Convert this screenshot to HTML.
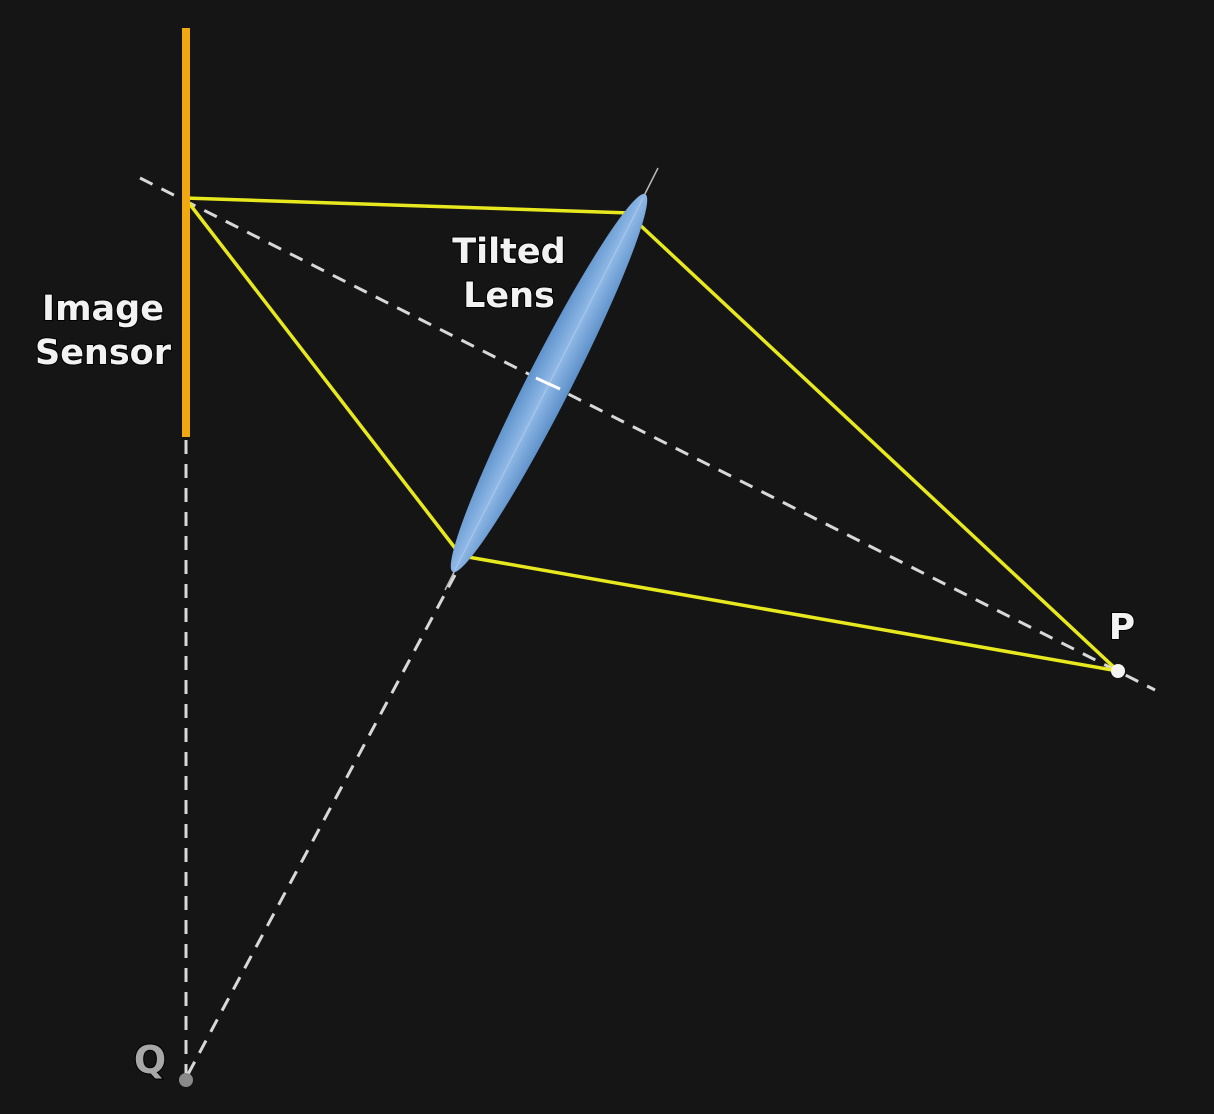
<!DOCTYPE html>
<html><head><meta charset="utf-8"><style>
html,body{margin:0;padding:0;background:#151515;}
svg{display:block}
text{font-family:"DejaVu Sans","Liberation Sans",sans-serif;fill:#f2f2f2;stroke:#000;stroke-width:2px;paint-order:stroke;font-weight:bold;}
</style></head><body>
<svg width="1214" height="1114" viewBox="0 0 1214 1114">
<defs>
<linearGradient id="lg" x1="0" y1="0" x2="0" y2="1">
<stop offset="0" stop-color="#5f93cc"/><stop offset="0.5" stop-color="#8fb8e6"/><stop offset="1" stop-color="#5c8fc8"/>
</linearGradient>
</defs>
<rect width="1214" height="1114" fill="#151515"/>
<g stroke="#d8d8d8" stroke-width="3" stroke-dasharray="14,10" fill="none">
<line x1="140" y1="178" x2="1155" y2="690"/>
<line x1="186" y1="440" x2="186" y2="1078"/>
<line x1="455" y1="575" x2="186" y2="1078"/>
</g>
<g stroke="#e8e81e" stroke-width="3.5" fill="none">
<line x1="185" y1="198" x2="630" y2="213"/>
<line x1="185" y1="198" x2="455" y2="548"/>
<line x1="640" y1="225" x2="1118" y2="671"/>
<line x1="468" y1="557" x2="1118" y2="671"/>
</g>
<rect x="182" y="28" width="8" height="409" fill="#f2a810"/>
<line x1="658" y1="168" x2="445" y2="590" stroke="#bbb" stroke-width="1.5"/>
<ellipse cx="549" cy="383" rx="212" ry="22" fill="url(#lg)" transform="rotate(-63 549 383)"/>
<line x1="643" y1="198" x2="455" y2="570" stroke="#a9c6e8" stroke-width="1.2"/>
<line x1="536" y1="378" x2="560" y2="389" stroke="#fff" stroke-width="3"/>
<circle cx="1118" cy="671" r="7" fill="#f4f4f4"/>
<circle cx="186" cy="1080" r="7" fill="#8a8a8a"/>
<text x="103" y="320" font-size="35" text-anchor="middle">Image</text>
<text x="103" y="364" font-size="35" text-anchor="middle">Sensor</text>
<text x="509" y="263" font-size="35" text-anchor="middle">Tilted</text>
<text x="509" y="307" font-size="35" text-anchor="middle">Lens</text>
<text x="1122" y="639" font-size="36" text-anchor="middle">P</text>
<text x="150" y="1073" font-size="38" text-anchor="middle" style="fill:#a8a8a8">Q</text>
</svg>
</body></html>
